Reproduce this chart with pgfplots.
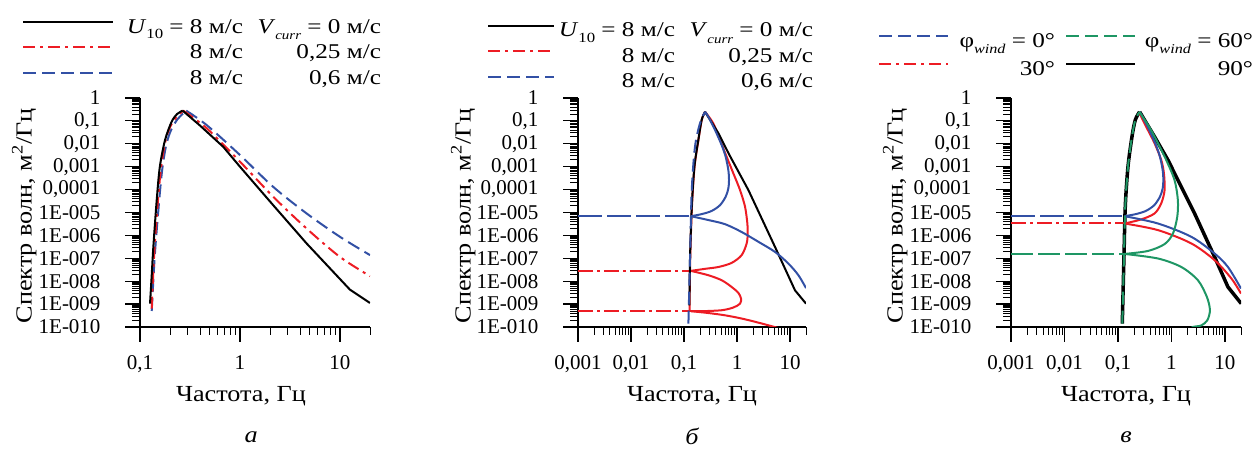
\documentclass[border=0pt]{standalone}
\usepackage{fontspec}
\setmainfont{Liberation Serif}
\newfontfamily\legfont[FakeStretch=1.2]{Liberation Serif}
\newfontfamily\labfont[FakeStretch=1.14]{Liberation Serif}
\usepackage{pgfplots}
\pgfplotsset{compat=1.18}
\newcommand{\fs}{\fontsize{21}{25}\selectfont}
\newcommand{\fl}{\labfont\fontsize{23}{27}\selectfont}
\newcommand{\fg}{\legfont\fontsize{21}{25}\selectfont}
\newcommand{\sbig}[1]{\raisebox{-0.28em}{\fontsize{14}{15}\selectfont #1}}
\newcommand{\ssmall}[1]{\raisebox{-0.3em}{\fontsize{12.5}{13}\selectfont\itshape #1}}
\definecolor{cred}{RGB}{237,28,36}
\definecolor{cblue}{RGB}{50,80,165}
\definecolor{cgreen}{RGB}{30,150,100}
\tikzset{
 curve/.style={line width=2pt},
 bdash/.style={cblue, line width=2pt, dash pattern=on 13pt off 6pt},
 rdash/.style={cred, line width=2pt, dash pattern=on 12pt off 5pt on 3pt off 5pt},
 gdash/.style={cgreen, line width=2pt, dash pattern=on 13pt off 6pt},
 bsolid/.style={black, line width=2pt},
}
\pgfplotsset{
 every axis/.append style={
  scale only axis, height=229pt, xmode=log, ymode=log,
  ymin=1e-10, ymax=1, enlargelimits=false, clip mode=individual,
  axis x line*=bottom, axis y line*=left,
  axis line style={-, line width=1.2pt},
  tick align=outside, major tick length=15pt, minor tick length=8pt,
  major tick style={line width=1.2pt, black},
  minor tick style={line width=0.9pt, black},
  ytick={1e-10,1e-9,1e-8,1e-7,1e-6,1e-5,1e-4,1e-3,1e-2,1e-1,1},
  yticklabels={1E-010,1E-009,1E-008,1E-007,1E-006,1E-005,{0,0001},{0,001},{0,01},{0,1},1},
  minor ytick={2e-10,3e-10,4e-10,5e-10,6e-10,7e-10,8e-10,9e-10,
   2e-9,3e-9,4e-9,5e-9,6e-9,7e-9,8e-9,9e-9,
   2e-8,3e-8,4e-8,5e-8,6e-8,7e-8,8e-8,9e-8,
   2e-7,3e-7,4e-7,5e-7,6e-7,7e-7,8e-7,9e-7,
   2e-6,3e-6,4e-6,5e-6,6e-6,7e-6,8e-6,9e-6,
   2e-5,3e-5,4e-5,5e-5,6e-5,7e-5,8e-5,9e-5,
   2e-4,3e-4,4e-4,5e-4,6e-4,7e-4,8e-4,9e-4,
   2e-3,3e-3,4e-3,5e-3,6e-3,7e-3,8e-3,9e-3,
   2e-2,3e-2,4e-2,5e-2,6e-2,7e-2,8e-2,9e-2,
   0.2,0.3,0.4,0.5,0.6,0.7,0.8,0.9},
  tick label style={font=\fs},
  yticklabel style={xshift=-21pt},
  xticklabel style={yshift=-10pt},
  ylabel={Спектр волн, м\textsuperscript{2}/Гц},
  xlabel={Частота, Гц},
  ylabel style={at={(axis description cs:-0.503,0.485)}, anchor=center, font=\fl},
  xlabel style={anchor=center, font=\fl},
  legend cell align=left,
  legend style={font=\fg, draw=none, fill=none, inner sep=0pt, outer sep=0pt, anchor=north west,
    nodes={inner sep=0pt, text height=15pt, text depth=5pt}, row sep=5.5pt},
 },
}
\begin{document}
\begin{tikzpicture}
\useasboundingbox (0,0) rectangle (1259pt,449pt);
% ---------------- panel a ----------------
\begin{axis}[at={(140pt,122pt)}, anchor=south west, width=230pt,
  xmin=0.1, xmax=20, xtick={0.1,1,10}, xticklabels={{0,1},1,10},
  minor xtick={0.2,0.3,0.4,0.5,0.6,0.7,0.8,0.9,2,3,4,5,6,7,8,9,20},
  xlabel style={at={(axis description cs:0.439,-0.301)}},
  legend style={at={(axis description cs:-0.513,1.349)},
    /tikz/every odd column/.append style={column sep=13pt}},
  legend image code/.code={\draw[#1] (0pt,6.5pt) -- (90pt,6.5pt);}]
\addlegendimage{bsolid}
\addlegendentry{\makebox[116pt][r]{\textit{U}\sbig{10} = 8 м/с}\makebox[138pt][r]{\textit{V}\ssmall{curr} = 0 м/с}}
\addlegendimage{rdash}
\addlegendentry{\makebox[116pt][r]{8 м/с}\makebox[138pt][r]{0,25 м/с}}
\addlegendimage{bdash}
\addlegendentry{\makebox[116pt][r]{8 м/с}\makebox[138pt][r]{0,6 м/с}}
\addplot[bdash, smooth, forget plot] coordinates {(0.131,5e-10) (0.14,1e-7) (0.152,1e-5) (0.165,5e-4) (0.18,6.3e-3) (0.2,3.16e-2) (0.235,0.112) (0.29,0.28)};
\addplot[bdash, smooth, forget plot] coordinates {(0.29,0.28) (0.464,6.6e-2) (1,3.24e-3) (2.15,1.32e-4) (4.64,9.1e-6) (10,8.7e-7) (20,1.38e-7)};
\addplot[rdash, smooth, forget plot] coordinates {(0.131,6.3e-10) (0.138,1e-7) (0.148,1e-5) (0.16,5e-4) (0.172,5e-3) (0.19,3.16e-2) (0.22,0.112) (0.271,0.28)};
\addplot[rdash, smooth, forget plot] coordinates {(0.271,0.28) (0.464,4.8e-2) (1,1.66e-3) (2.15,4.9e-5) (4.64,2.0e-6) (10,1.15e-7) (20,1.66e-8)};
\addplot[bsolid, smooth, forget plot] coordinates {(0.126,1.05e-9) (0.131,1.82e-8) (0.136,3.16e-7) (0.147,3.47e-5) (0.158,1e-3) (0.178,1.45e-2) (0.207,9.1e-2) (0.235,0.2) (0.267,0.28)};
\addplot[bsolid, forget plot] coordinates {(0.267,0.28) (0.398,6.3e-2) (0.68,7.4e-3) (1,1e-3) (2.15,2.09e-5) (4.64,4.47e-7) (12.6,4.27e-9) (20,1.12e-9)};
\node[font=\fl\itshape] at (axis description cs:0.483,-0.48) {а};
\end{axis}
% ---------------- panel b ----------------
\begin{axis}[at={(578pt,122pt)}, anchor=south west, width=228pt,
  xmin=0.001, xmax=20, xtick={0.001,0.01,0.1,1,10}, xticklabels={{0,001},{0,01},{0,1},1,10},
  minor xtick={0.002,0.003,0.004,0.005,0.006,0.007,0.008,0.009,0.02,0.03,0.04,0.05,0.06,0.07,0.08,0.09,0.2,0.3,0.4,0.5,0.6,0.7,0.8,0.9,2,3,4,5,6,7,8,9,20},
  xlabel style={at={(axis description cs:0.5,-0.301)}},
  legend style={at={(axis description cs:-0.399,1.332)},
    /tikz/every odd column/.append style={column sep=4pt}},
  legend image code/.code={\draw[#1] (0pt,6pt) -- (66pt,6pt);}]
\addlegendimage{bsolid}
\addlegendentry{\makebox[116pt][r]{\textit{U}\sbig{10} = 8 м/с}\makebox[138pt][r]{\textit{V}\ssmall{curr} = 0 м/с}}
\addlegendimage{rdash}
\addlegendentry{\makebox[116pt][r]{8 м/с}\makebox[138pt][r]{0,25 м/с}}
\addlegendimage{bdash}
\addlegendentry{\makebox[116pt][r]{8 м/с}\makebox[138pt][r]{0,6 м/с}}
% red
\addplot[cred, curve, smooth, forget plot] coordinates {(0.127,4.9e-10) (0.131,1e-7) (0.141,1.78e-5) (0.158,1e-3) (0.187,1.45e-2) (0.216,0.11) (0.249,0.25)};
\addplot[cred, curve, smooth, forget plot] coordinates {(0.249,0.25) (0.357,7.8e-2) (0.478,1.45e-2) (0.638,2.7e-3) (0.853,5.1e-4) (1.14,9.5e-5) (1.416,1.78e-5) (1.567,3.31e-6) (1.59,1.2e-6) (1.52,4.47e-7) (1.224,1.38e-7) (0.792,6.3e-8) (0.445,4.17e-8) (0.249,3.47e-8) (0.135,2.82e-8)};
\addplot[cred, curve, smooth, forget plot] coordinates {(0.135,2.82e-8) (0.288,1.82e-8) (0.514,1.1e-8) (0.792,5.6e-9) (1.06,3.09e-9) (1.19,1.74e-9) (1.14,1.05e-9) (0.853,7.1e-10) (0.514,5.4e-10) (0.215,4.9e-10) (0.135,4.9e-10)};
\addplot[cred, curve, smooth, forget plot] coordinates {(0.135,4.9e-10) (0.288,4.07e-10) (0.594,3.24e-10) (1.224,2.34e-10) (2.53,1.55e-10) (5.1,1e-10) (7,8e-11)};
\addplot[cred, line width=2pt, dash pattern=on 15pt off 4pt on 3pt off 4pt, forget plot] coordinates {(0.001,2.82e-8) (0.135,2.82e-8)};
\addplot[cred, line width=2pt, dash pattern=on 15pt off 4pt on 3pt off 4pt, forget plot] coordinates {(0.001,4.9e-10) (0.135,4.9e-10)};
% black
\addplot[bsolid, smooth, forget plot] coordinates {(0.126,8.7e-10) (0.13,1.15e-7) (0.14,1.78e-5) (0.157,1e-3) (0.186,1.45e-2) (0.215,0.11) (0.249,0.25)};
\addplot[bsolid, forget plot] coordinates {(0.249,0.25) (0.445,2.9e-2) (0.706,3.5e-3) (1.64,9.5e-5) (5.2,3.16e-7) (12.4,4.0e-9) (20,1.05e-9)};
% blue
\addplot[cblue, curve, smooth, forget plot] coordinates {(0.135,6.9e-6) (0.2154,8.5e-6) (0.3325,1.17e-5) (0.4775,2.09e-5) (0.611,4.9e-5) (0.686,1.12e-4) (0.706,2.57e-4) (0.686,7.08e-4) (0.611,2.69e-3) (0.514,8.7e-3) (0.385,3.98e-2) (0.288,0.151) (0.249,0.25)};
\addplot[cblue, curve, smooth, forget plot] coordinates {(0.135,6.9e-6) (0.288,4.68e-6) (0.594,3.09e-6) (1.22,1.41e-6) (2.53,5.25e-7) (5.21,1.9e-7) (9.3,5.9e-8) (14.4,1.82e-8) (20,5.0e-9)};
\addplot[cblue, line width=2pt, dash pattern=on 24pt off 5pt, forget plot] coordinates {(0.001,6.9e-6) (0.135,6.9e-6)};
\addplot[bdash, smooth, forget plot] coordinates {(0.121,1.41e-10) (0.13,1.15e-7) (0.14,9.5e-5) (0.161,7.4e-3) (0.2,7.8e-2) (0.249,0.25)};
\node[font=\fl\itshape] at (axis description cs:0.5,-0.477) {б};
\end{axis}
% ---------------- panel c ----------------
\begin{axis}[at={(1011pt,122pt)}, anchor=south west, width=230pt,
  xmin=0.001, xmax=20, xtick={0.001,0.01,0.1,1,10}, xticklabels={{0,001},{0,01},{0,1},1,10},
  minor xtick={0.002,0.003,0.004,0.005,0.006,0.007,0.008,0.009,0.02,0.03,0.04,0.05,0.06,0.07,0.08,0.09,0.2,0.3,0.4,0.5,0.6,0.7,0.8,0.9,2,3,4,5,6,7,8,9,20},
  xlabel style={at={(axis description cs:0.5,-0.301)}},
  legend columns=2,
  legend style={at={(axis description cs:-0.578,1.288)}, row sep=8pt,
    /tikz/every odd column/.append style={column sep=9pt},
    /tikz/every even column/.append style={column sep=10pt}},
  legend image code/.code={\draw[#1] (0pt,6.5pt) -- (69pt,6.5pt);}]
\addlegendimage{bdash}
\addlegendentry{\makebox[97pt][r]{φ\ssmall{\fontsize{13.5}{14}\selectfont wind} = 0°}}
\addlegendimage{gdash}
\addlegendentry{\makebox[108pt][r]{φ\ssmall{\fontsize{13.5}{14}\selectfont wind} = 60°}}
\addlegendimage{rdash}
\addlegendentry{\makebox[97pt][r]{30°}}
\addlegendimage{bsolid}
\addlegendentry{\makebox[108pt][r]{90°}}
% black
\addplot[black, line width=3.5pt, smooth, forget plot] coordinates {(0.1205,1.41e-10) (0.1295,1.15e-7) (0.137,1.78e-5) (0.154,1e-3) (0.183,2.04e-2) (0.211,0.11) (0.254,0.25)};
\addplot[black, line width=3.5pt, forget plot] coordinates {(0.254,0.25) (0.484,2.04e-2) (0.861,1.95e-3) (2.71,9.1e-6) (6.41,1.15e-7) (11.4,5.6e-9) (20.2,1.05e-9)};
% red
\addplot[cred, curve, smooth, forget plot] coordinates {(0.133,3.31e-6) (0.273,5.0e-6) (0.484,9.1e-6) (0.645,2.51e-5) (0.745,9.5e-5) (0.724,5.13e-4) (0.645,1.95e-3) (0.484,1.05e-2) (0.363,3.98e-2) (0.273,0.151) (0.254,0.25)};
\addplot[cred, curve, smooth, forget plot] coordinates {(0.133,3.31e-6) (0.56,1.7e-6) (2.35,4.47e-7) (6.41,8.3e-8) (13.2,1.32e-8) (20,2.88e-9)};
\addplot[cred, line width=2pt, dash pattern=on 15pt off 4pt on 3pt off 4pt, forget plot] coordinates {(0.001,3.31e-6) (0.133,3.31e-6)};
% blue
\addplot[cblue, curve, smooth, forget plot] coordinates {(0.133,6.9e-6) (0.2154,8.5e-6) (0.3325,1.17e-5) (0.4775,2.09e-5) (0.611,4.9e-5) (0.686,1.12e-4) (0.706,2.57e-4) (0.686,7.08e-4) (0.611,2.69e-3) (0.514,8.7e-3) (0.385,3.98e-2) (0.288,0.151) (0.254,0.25)};
\addplot[cblue, curve, smooth, forget plot] coordinates {(0.133,6.9e-6) (0.56,3.31e-6) (2.35,8.7e-7) (6.41,1.62e-7) (11.4,4.17e-8) (20,4.8e-9)};
\addplot[cblue, line width=2pt, dash pattern=on 24pt off 5pt, forget plot] coordinates {(0.001,6.9e-6) (0.133,6.9e-6)};
% green
\addplot[cgreen, curve, smooth, forget plot] coordinates {(0.133,1.55e-7) (0.364,2.09e-7) (0.745,4.17e-7) (1.067,1.2e-6) (1.285,6.46e-6) (1.32,3.47e-5) (1.145,2.57e-4) (0.80,1.95e-3) (0.56,1.05e-2) (0.40,4.68e-2) (0.28,0.17) (0.254,0.25)};
\addplot[cgreen, curve, smooth, forget plot] coordinates {(0.133,1.55e-7) (0.56,9.8e-8) (1.53,4.17e-8) (3.13,1.1e-8) (4.61,2.04e-9) (5.25,5.4e-10) (4.68,1.95e-10) (3.61,1.17e-10) (2.52,1e-10) (2.0,7e-11)};
\addplot[cgreen, line width=2pt, dash pattern=on 22pt off 5pt, forget plot] coordinates {(0.001,1.55e-7) (0.133,1.55e-7)};
\addplot[gdash, smooth, forget plot] coordinates {(0.1205,1.41e-10) (0.1295,1.15e-7) (0.137,1.78e-5) (0.154,1e-3) (0.183,2.04e-2) (0.211,0.11) (0.254,0.25)};
\node[font=\fl\itshape] at (axis description cs:0.5,-0.48) {в};
\end{axis}
\end{tikzpicture}
\end{document}
